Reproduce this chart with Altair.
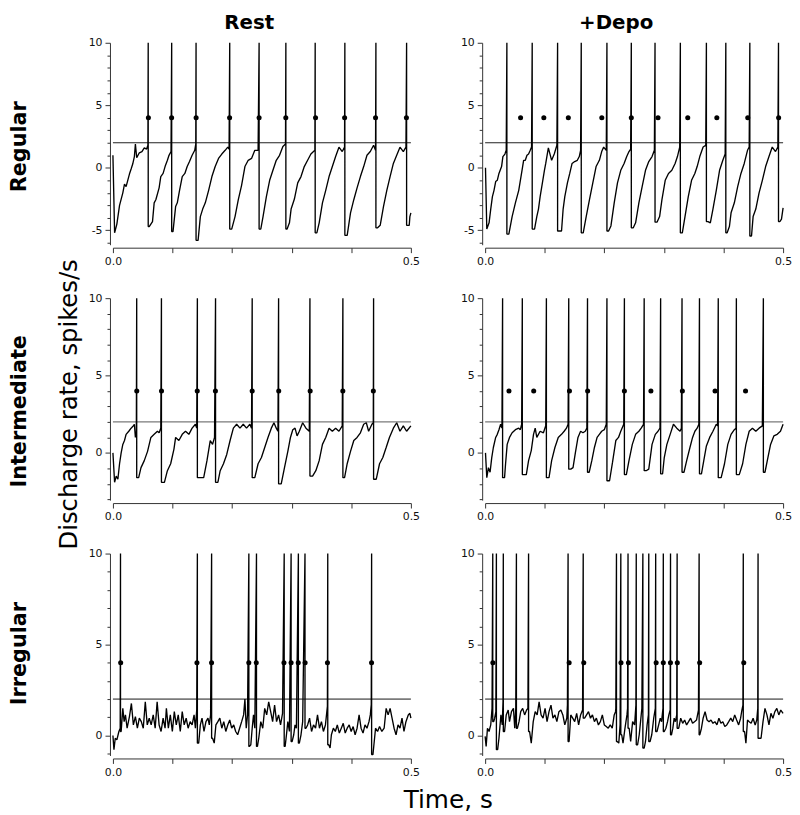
import altair as alt
import pandas as pd

# ---------------- data (time in ms, rate in spikes/s) ----------------
DOTS_REGULAR = [59.5, 98.5, 139.6, 195.8, 245.3, 290.1, 340.0, 388.8, 440.7, 492.5]
DOTS_INTERMEDIATE = [40.0, 81.5, 141.5, 172.0, 233.7, 278.2, 331.0, 385.8, 437.0]
DOTS_IRREGULAR = [13.0, 141.0, 165.5, 228.0, 240.5, 287.0, 299.0, 311.0, 322.5, 360.0, 434.0]

SPIKES_REG_REST = [59.2, 98.6, 139.5, 196.0, 245.3, 290.2, 339.4, 389.2, 441.3, 492.8]
TRACE_REG_REST = [
    (0, 1.0), (2.8, -5.2), (6.6, -4.5), (11.1, -3.0), (16.6, -2.0), (19.4, -1.3), (22.1, -1.5), (27.7, -0.5),
    (30.5, -0.1), (33.2, 0.3), (36.0, 0.9), (37.7, 1.9), (39.9, 0.8), (44.3, 1.2), (48.7, 1.3), (52.6, 1.6),
    (56.5, 1.5), (58.7, 1.8),
    (60.9, -4.7), (66.4, -4.3), (69.2, -2.8), (72.0, -2.55), (77.5, -1.6), (80.3, -0.7), (84.2, -0.45),
    (87.5, 0.1), (91.4, 0.6), (94.1, 1.0), (97.5, 1.3),
    (100.8, -5.1), (105.2, -3.1), (108.0, -2.8), (111.8, -1.8), (116.3, -0.7), (120.7, -0.45), (124.6, 0.1),
    (128.5, 0.5), (132.9, 1.0), (137.3, 1.4), (139.0, 1.9),
    (142.9, -5.8), (146.7, -3.9), (150.6, -3.3), (155.0, -2.8), (160.6, -1.8), (166.1, -0.7), (171.6, 0.1),
    (177.2, 0.75), (182.7, 1.1), (188.3, 1.4), (192.7, 1.65), (194.9, 1.5),
    (199.3, -4.9), (204.9, -3.9), (210.4, -2.55), (215.9, -1.4), (221.5, 0.1), (227.0, 0.6), (232.6, 0.75),
    (238.1, 1.4), (243.6, 1.4),
    (248.1, -4.9), (251.9, -3.9), (257.5, -2.3), (263.0, -1.0), (268.5, -0.2), (274.1, 0.6), (279.6, 1.0),
    (285.2, 1.7), (289.6, 1.9),
    (292.3, -4.9), (296.2, -4.4), (299.0, -3.3), (304.5, -2.5), (310.1, -1.2), (315.6, -0.7), (321.1, 0.1),
    (326.7, 0.6), (332.2, 1.1), (336.6, 1.3), (338.9, 1.4),
    (342.2, -5.2), (346.1, -4.4), (351.6, -2.8), (357.1, -1.8), (362.7, -0.7), (368.2, 0.1), (373.7, 0.9),
    (379.3, 1.65), (384.8, 1.3), (388.7, 1.65),
    (393.1, -5.4), (398.7, -3.6), (404.2, -2.55), (409.7, -1.6), (415.3, -0.7), (420.8, 0.1), (426.3, 1.0),
    (431.9, 1.3), (437.4, 1.8), (440.7, 1.4),
    (444.1, -4.8), (448.5, -4.6), (454.0, -3.1), (459.6, -1.8), (465.1, -0.7), (470.6, 0.35), (476.2, 1.0),
    (481.7, 1.65), (487.3, 1.3), (491.7, 1.65),
    (497.2, -4.6), (498.3, -3.9), (500, -3.6),
]

SPIKES_REG_DEPO = [36.5, 79.0, 121.6, 161.3, 204.4, 245.3, 285.1, 327.6, 371.3, 403.9, 444.2, 492.3]
TRACE_REG_DEPO = [
    (0.6, 0.0), (2.8, -4.9), (6.6, -4.4), (9.4, -3.3), (12.2, -2.3), (14.9, -1.8), (17.7, -1.1), (20.4, -1.0),
    (23.2, -0.45), (27.6, 0.1), (29.8, 0.9), (33.2, 1.1), (35.4, 1.4),
    (39.8, -5.3), (45.3, -3.9), (50.8, -2.8), (56.4, -1.8), (61.9, -0.2), (64.6, 0.6), (67.4, 0.6), (70.2, 1.0),
    (72.9, 1.1), (75.7, 1.4), (77.9, 1.66),
    (82.9, -4.9), (86.7, -3.9), (89.5, -3.3), (92.3, -2.3), (96.1, -1.2), (99.5, -0.2), (101.7, 0.35),
    (106.1, 1.6), (111.6, 0.6), (116.0, 1.1), (120.4, 1.8),
    (123.8, -5.05), (128.2, -5.05), (130.9, -3.3), (133.7, -2.3), (138.1, -1.2), (142.0, -0.45), (145.9, 0.35),
    (150.3, 0.5), (154.7, 0.6), (158.0, 0.9), (160.2, 1.4),
    (164.6, -5.2), (169.6, -3.9), (175.1, -2.55), (180.7, -1.2), (186.2, 0.1), (191.7, 0.6), (195.6, 1.3),
    (198.9, 1.66), (203.3, 1.4),
    (207.2, -5.05), (211.1, -4.65), (216.6, -2.8), (222.1, -1.2), (227.6, -0.2), (233.2, 0.35), (237.6, 0.9),
    (241.4, 1.3), (244.2, 1.5),
    (248.6, -4.8), (252.5, -4.4), (258.0, -2.8), (263.5, -1.5), (269.1, -0.2), (274.6, 0.5), (280.1, 0.9),
    (284.0, 1.4),
    (288.4, -4.35), (292.8, -3.9), (296.7, -2.55), (302.2, -1.0), (307.7, -0.45), (313.3, -0.2), (318.8, 0.35),
    (322.7, 0.9), (326.5, 1.66),
    (330.9, -5.2), (335.4, -3.9), (340.9, -2.3), (346.4, -1.0), (351.9, -0.45), (355.8, 0.1), (360.2, 0.9),
    (365.8, 1.66), (370.2, 1.8),
    (374.0, -4.3), (377.9, -4.4), (382.3, -3.3), (387.9, -1.8), (393.4, -0.2), (398.9, 0.6), (402.8, 1.1),
    (406.1, -5.2), (409.9, -4.7), (412.7, -3.6), (418.2, -2.8), (423.8, -1.5), (429.3, -0.45), (434.8, 0.35),
    (440.3, 1.4), (443.1, 1.66),
    (447.0, -5.45), (449.7, -3.9), (454.2, -3.3), (459.7, -2.0), (465.2, -1.0), (470.7, 0.1), (476.3, 0.9),
    (481.8, 1.66), (487.3, 1.3), (491.2, 1.66),
    (494.5, -4.3), (497.3, -4.1), (500, -3.2),
]

SPIKES_INT_REST = [39.9, 81.4, 141.7, 172.2, 233.7, 278.0, 330.6, 385.9, 437.4]
TRACE_INT_REST = [
    (0, 0.0), (2.8, -1.9), (5.5, -1.5), (8.3, -1.7), (11.1, -0.7), (13.8, 0.0), (16.6, 0.55), (19.4, 0.8),
    (22.1, 1.2), (26.6, 1.4), (30.5, 1.6), (33.2, 1.7), (36.0, 1.85), (37.7, 1.0), (39.3, 1.4),
    (43.2, -1.6), (47.1, -0.95), (52.6, -0.5), (58.1, 0.1), (60.9, 0.55), (63.7, 1.0), (69.2, 1.2), (74.7, 1.4),
    (77.5, 1.3), (80.3, 1.6),
    (86.4, -1.9), (91.4, -1.15), (96.9, -0.7), (102.4, 0.25), (105.2, 1.0), (110.7, 0.8), (116.3, 1.2),
    (121.8, 1.4), (127.4, 1.2), (132.9, 1.6), (138.4, 1.85), (140.6, 1.6),
    (146.7, -1.6), (152.3, -1.6), (157.8, -0.5), (163.3, 0.8), (167.2, 0.55), (170.5, 1.0),
    (176.1, -1.9), (180.0, -1.15), (185.5, -0.7), (191.0, -0.1), (196.6, 0.8), (202.1, 1.6), (207.6, 1.85),
    (213.2, 1.6), (218.7, 1.85), (224.2, 1.6), (229.8, 1.85), (232.6, 1.6),
    (238.1, -1.6), (243.6, -0.7), (249.2, -0.3), (254.7, 0.35), (260.2, 1.0), (265.8, 1.6), (270.2, 1.95),
    (274.1, 1.6), (276.9, 1.4),
    (282.4, -2.0), (287.9, -0.95), (293.5, 0.1), (297.9, 1.0), (301.8, 1.5), (305.6, 1.6), (309.0, 1.1),
    (312.8, 1.4), (318.4, 1.95), (323.9, 1.6), (329.5, 1.4),
    (335.0, -1.5), (340.5, -1.15), (346.1, -0.5), (351.6, 0.55), (357.1, 1.0), (362.7, 1.6), (368.2, 1.4),
    (373.7, 1.6), (379.3, 1.4), (384.8, 1.75),
    (388.7, -1.6), (393.1, -0.7), (398.7, 0.1), (404.2, 0.8), (409.7, 1.0), (415.3, 1.3), (420.8, 1.85),
    (425.2, 1.95), (429.1, 1.4), (434.6, 1.85), (436.9, 1.95),
    (441.9, -1.7), (447.4, -0.7), (452.9, -0.3), (458.5, 0.35), (464.0, 1.0), (470.6, 1.6), (476.2, 1.95),
    (481.7, 1.4), (487.3, 1.75), (492.8, 1.4), (500, 1.75),
]

SPIKES_INT_DEPO = [29.3, 62.4, 102.8, 140.3, 171.8, 204.4, 233.7, 266.9, 294.5, 330.4, 359.7, 391.2, 421.6, 466.9]
TRACE_INT_DEPO = [
    (0.6, 0.0), (2.8, -1.6), (5.5, -0.95), (8.3, -1.25), (11.1, -0.3), (13.8, 0.35), (17.7, 1.0), (20.4, 1.2),
    (23.2, 1.5), (26.0, 1.85), (28.2, 1.6),
    (32.6, -1.6), (34.3, -0.7), (37.0, 0.55), (40.9, 1.0), (45.3, 1.3), (50.8, 1.5), (56.4, 1.6), (59.1, 1.5),
    (61.3, 1.85),
    (65.7, -1.4), (69.1, -1.4), (72.9, -0.5), (77.4, 0.15), (81.2, 1.2), (84.0, 1.6), (86.7, 1.0), (92.3, 1.4),
    (97.8, 1.3), (101.7, 1.75),
    (107.2, -1.6), (111.6, -0.5), (117.1, 0.35), (122.7, 1.0), (128.2, 1.2), (132.6, 1.4), (136.5, 1.6),
    (139.2, 1.85),
    (143.7, -1.05), (147.5, -0.95), (151.4, 0.0), (155.8, 1.0), (160.2, 1.4), (164.1, 1.3), (168.0, 1.4),
    (170.7, 1.6),
    (174.6, -1.25), (179.0, -0.5), (183.4, 0.35), (187.9, 1.0), (191.7, 1.2), (195.6, 1.4), (200.0, 1.5),
    (203.3, 1.85),
    (208.8, -1.8), (213.8, -0.6), (219.3, 0.8), (223.8, 1.0), (227.6, 1.4), (232.6, 1.85),
    (237.0, -1.4), (241.4, -0.5), (247.0, 0.55), (252.5, 1.2), (258.0, 1.4), (261.9, 1.6), (265.8, 1.85),
    (270.2, -1.15), (274.6, -1.05), (280.1, 0.55), (285.6, 1.2), (290.1, 1.4), (293.4, 1.6),
    (297.8, -1.35), (300.6, -0.3), (305.0, 0.55), (310.5, 1.2), (316.0, 1.85), (321.6, 1.6), (327.1, 1.4),
    (329.3, 1.6),
    (333.7, -1.25), (338.2, -0.5), (343.7, 0.35), (348.1, 1.0), (352.0, 1.4), (355.8, 1.6), (358.6, 1.85),
    (363.0, -1.35), (366.9, -0.5), (371.3, 0.45), (376.8, 1.0), (382.3, 1.4), (387.9, 1.85), (390.1, 1.75),
    (396.1, -1.6), (401.7, -0.7), (407.2, 0.55), (412.7, 1.2), (418.2, 1.5), (421.0, 1.6),
    (426.5, -1.4), (432.1, -0.7), (437.6, 0.55), (443.1, 1.4), (448.6, 1.6), (454.2, 1.4), (459.7, 1.6),
    (465.2, 1.75),
    (469.6, -1.25), (473.5, -0.5), (479.0, 0.55), (484.5, 1.1), (490.1, 1.2), (495.6, 1.4), (500, 1.85),
]

SPIKES_IRR_REST = [12.7, 141.7, 165.6, 228.1, 240.9, 287.4, 299.0, 311.2, 322.3, 360.5, 434.1]
TRACE_IRR_REST = [
    (0, 0.0), (1.7, -0.78), (3.9, -0.15), (6.6, -0.24), (10.0, 0.22), (12.2, 0.4),
    (13.8, 0.22), (16.6, 1.49), (18.8, 0.76), (21.0, 1.13), (23.8, 0.4), (27.7, 1.04), (31.0, 1.76), (34.3, 0.58),
    (37.7, 1.04), (41.0, 0.4), (44.3, 0.95), (47.6, 0.76), (50.9, 0.4), (54.3, 1.85), (57.6, 0.58), (60.9, 0.95),
    (64.2, 0.58), (67.6, 1.13), (70.9, 0.4), (74.2, 1.85), (77.5, 0.58), (80.8, 0.22), (84.2, 0.95), (87.5, 0.4),
    (89.7, 1.49), (93.0, 0.4), (96.3, 1.13), (99.7, 0.22), (103.0, 1.31), (106.3, 0.58), (109.6, 1.13),
    (113.0, 0.22), (116.3, 1.31), (119.6, 0.58), (122.9, 0.95), (126.2, 0.4), (129.6, 0.76), (132.9, 0.58),
    (136.2, 1.13), (138.4, 0.4), (140.6, 1.4),
    (143.9, -0.42), (146.7, 0.58), (149.5, 0.95), (152.8, 0.22), (156.1, 0.76), (159.5, 0.95), (161.7, 0.58),
    (163.9, 1.13),
    (167.2, -0.15), (170.0, -0.42), (172.8, 0.58), (176.1, 0.76), (179.4, 0.95), (182.7, 0.4), (186.0, 0.76),
    (189.4, 0.22), (192.7, 0.58), (196.0, 0.85), (199.3, 0.4), (202.7, 0.58), (206.0, 0.22), (209.3, 0.04),
    (212.6, 0.4), (216.0, 0.76), (219.3, 1.13), (221.5, 2.0), (223.7, 0.4), (225.9, 1.13),
    (229.2, -0.6), (231.4, -0.51), (233.7, 0.4), (235.9, 1.13), (238.1, 0.4),
    (242.5, -0.6), (244.7, -0.15), (248.1, 0.76), (251.4, 0.4), (254.7, 1.49), (258.0, 1.13), (261.4, 1.85),
    (264.7, 1.31), (268.0, 0.76), (271.3, 1.67), (274.6, 0.76), (278.0, 1.13), (281.3, 0.58), (284.6, 1.22),
    (289.0, -0.6), (291.2, 0.04), (293.5, 0.76), (296.2, 0.22),
    (300.7, -0.33), (303.4, 0.04), (305.6, 0.58), (307.9, 0.4),
    (312.8, -0.42), (315.6, 0.04), (318.4, 0.76),
    (323.9, 0.4), (326.7, 0.58), (330.0, 0.95), (333.3, 0.22), (336.6, 0.58), (340.0, 0.4), (343.3, 1.13),
    (346.6, 0.4), (349.9, 0.76), (353.2, 0.22), (356.6, 0.58), (359.9, 1.6),
    (362.1, -0.51), (364.4, -0.69), (366.6, 0.04), (369.9, 0.4), (373.2, 0.22), (376.5, 0.58), (379.9, 0.13),
    (383.2, 0.4), (386.5, 0.67), (389.8, 0.13), (393.1, 0.4), (396.5, 0.58), (399.8, 0.22), (403.1, 0.49),
    (406.4, 0.04), (409.7, 0.4), (413.1, 1.13), (416.4, 0.4), (419.7, 0.13), (423.0, 0.58), (426.3, 0.4),
    (429.7, 0.76), (431.9, 1.13), (433.5, 1.7),
    (436.3, -1.05), (438.5, -0.33), (440.7, 0.4), (444.1, 0.22), (447.4, 0.49), (451.3, 0.22), (455.1, 0.4),
    (458.5, 1.49), (461.8, 1.13), (465.1, 1.49), (468.4, 0.95), (471.8, 0.4), (475.1, 0.04), (478.4, 0.58),
    (481.7, 0.4), (485.1, 0.95), (488.4, 0.22), (491.7, 0.76), (495.6, 1.13), (498.3, 1.22), (500, 0.95),
]

SPIKES_IRR_DEPO = [12.8, 18.9, 30.5, 52.5, 72.9, 139.2, 164.6, 220.4, 227.7, 239.8, 253.6, 264.7, 274.6,
                   286.2, 299.0, 311.1, 322.2, 359.1, 433.2, 458.0]
TRACE_IRR_DEPO = [
    (0, -0.05), (1.7, -0.6), (3.9, 0.4), (6.6, 0.22), (9.4, 0.58), (11.6, 1.5),
    (14.4, 0.76), (16.0, 0.95), (18.0, 1.3),
    (21.0, -0.78), (23.2, -0.15), (26.5, 1.13), (28.7, 0.58), (30.0, 1.85),
    (32.6, 0.22), (35.4, 1.13), (38.7, 1.4), (40.9, 0.76), (44.2, 1.31), (47.5, 1.49), (49.7, 0.4), (51.4, 1.49),
    (54.1, 0.4), (56.9, 0.76), (59.7, 1.31), (63.0, 1.49), (66.3, 1.13), (69.6, 1.4), (71.8, 1.49),
    (74.6, 0.22), (77.4, -0.42), (80.7, 0.76), (84.0, 1.31), (87.3, 1.13), (90.6, 1.85), (93.9, 1.13),
    (97.2, 0.95), (100.6, 1.49), (103.9, 0.76), (107.2, 1.31), (110.5, 1.67), (113.8, 0.95), (117.1, 1.13),
    (120.4, 0.76), (123.8, 1.31), (127.1, 1.4), (130.4, 1.13), (133.7, 0.58), (137.0, 0.95), (138.1, 1.67),
    (140.9, -0.33), (143.7, 1.13), (147.0, 0.95), (150.3, 0.76), (153.6, 1.22), (156.9, 0.58), (160.2, 1.13),
    (163.5, 1.4),
    (166.9, 0.95), (170.2, 1.13), (173.5, 1.31), (176.8, 0.95), (180.1, 1.13), (183.4, 0.76), (186.7, 0.95),
    (190.1, 0.58), (193.4, 0.76), (196.7, 1.13), (200.0, 0.58), (203.3, 0.49), (206.6, 0.4), (209.9, 0.58),
    (213.3, 0.4), (216.6, 1.13), (218.8, 1.31), (219.3, 1.49),
    (221.6, -0.33), (224.3, -0.42), (226.5, 0.6),
    (229.2, 0.04), (231.4, -0.42), (234.7, 0.4), (238.0, 1.13), (239.0, 1.49),
    (241.7, 0.4), (244.2, -0.33), (247.5, 0.76), (250.8, 0.58), (253.0, 1.67),
    (255.8, -0.51), (258.6, 0.04), (260.8, 0.76), (263.0, 1.49),
    (266.9, -0.69), (269.1, -0.33), (271.8, 0.58), (274.0, 1.13),
    (276.8, -0.33), (279.6, 0.04), (282.9, 0.95), (285.6, 1.49),
    (288.4, 0.22), (291.2, 0.58), (293.9, 0.95), (296.1, 0.76), (298.4, 1.49),
    (300.6, 0.22), (303.3, 0.4), (306.1, 0.76), (308.3, 1.13), (310.5, 1.4),
    (312.7, 0.04), (315.0, 0.4), (317.2, 0.95), (319.3, 0.76), (321.5, 1.13),
    (324.9, 0.4), (328.2, 0.95), (331.5, 0.67), (334.8, 0.85), (338.1, 0.58), (341.4, 0.76), (344.8, 0.95),
    (348.1, 0.67), (351.4, 0.76), (354.7, 0.85), (358.0, 1.4),
    (360.2, 0.04), (363.0, 0.4), (365.8, 0.95), (369.1, 1.31), (372.4, 0.85), (375.7, 0.76), (379.0, 0.85),
    (382.3, 0.67), (385.6, 0.76), (389.0, 0.58), (392.3, 0.95), (395.6, 0.67), (398.9, 0.76), (402.2, 0.49),
    (405.5, 0.58), (408.8, 0.76), (412.2, 0.95), (415.5, 0.76), (418.8, 1.13), (422.1, 0.85), (425.4, 0.58),
    (428.7, 0.95), (430.9, 1.4), (432.6, 1.67),
    (435.4, 0.22), (437.6, -0.42), (440.3, 0.85), (443.1, 0.76), (446.4, 0.67), (449.7, 0.95), (453.1, 0.58),
    (455.8, 0.85), (457.5, 1.49),
    (459.7, -0.15), (463.0, -0.15), (466.3, 0.76), (469.6, 1.49), (472.9, 1.13), (476.3, 0.58), (479.6, 1.22),
    (482.9, 0.95), (486.2, 1.31), (489.5, 1.49), (492.8, 1.13), (496.1, 1.4), (500, 1.22),
]

ROW_NAMES = ["Regular", "Intermediate", "Irregular"]
COL_NAMES = ["Rest", "+Depo"]
Y_LOW = [-6.15, -3.05, -1.1]
Y_TICKS = [list(range(-6, 11)), list(range(-3, 11)), list(range(-1, 11))]
X_TICKS = [0, 100, 200, 300, 400, 500]
THRESHOLD = 2.0
DOT_LEVEL = 4.0
SPIKE_TOP = 10.0

PANELS = [
    [(TRACE_REG_REST, SPIKES_REG_REST), (TRACE_REG_DEPO, SPIKES_REG_DEPO)],
    [(TRACE_INT_REST, SPIKES_INT_REST), (TRACE_INT_DEPO, SPIKES_INT_DEPO)],
    [(TRACE_IRR_REST, SPIKES_IRR_REST), (TRACE_IRR_DEPO, SPIKES_IRR_DEPO)],
]
DOTS = [DOTS_REGULAR, DOTS_INTERMEDIATE, DOTS_IRREGULAR]
THRESH_STYLE = [("#222222", 1.1), ("#7a7a7a", 1.2), ("#7a7a7a", 1.7)]

# ---------------- chart ----------------
W, H = 301, 204
AXC = "#333333"
FONT = "DejaVu Sans"


def x_enc():
    return alt.X(
        "t:Q",
        scale=alt.Scale(domain=[0, 500], nice=False, zero=False),
        axis=alt.Axis(
            values=X_TICKS,
            labelExpr="datum.value == 0 ? '0.0' : (datum.value == 500 ? '0.5' : '')",
            title=None, grid=False, offset=3, tickSize=5, labelFlush=False, labelOverlap=False,
            domainColor=AXC, tickColor=AXC, labelFont=FONT, labelFontSize=11,
            labelColor="#111111", labelPadding=3,
        ),
    )


def y_enc(r):
    return alt.Y(
        "v:Q",
        scale=alt.Scale(domain=[Y_LOW[r], 10], nice=False, zero=False),
        axis=alt.Axis(
            values=Y_TICKS[r],
            labelExpr="datum.value % 5 == 0 ? '' + datum.value : ''",
            tickSize={"condition": {"test": "datum.value % 5 == 0", "value": 5}, "value": 3},
            title=None, grid=False, offset=3, labelOverlap=False,
            domainColor=AXC, tickColor=AXC, labelFont=FONT, labelFontSize=11,
            labelColor="#111111", labelPadding=3,
        ),
    )


def text_layer(s, x, y, size, weight="normal", angle=0, baseline="middle"):
    return alt.Chart(pd.DataFrame({"s": [s]})).mark_text(
        x=x, y=y, angle=angle, align="center", baseline=baseline,
        font=FONT, fontSize=size, fontWeight=weight, color="black",
    ).encode(text="s:N")


def build_trace(trace, spikes):
    # each spike: straight up to the top at the spike time, then straight down
    # to the trough value read just after it
    rows = [(t, 1, v) for t, v in trace]
    pts = sorted(trace)
    for s in spikes:
        nxt = next((v for t, v in pts if t > s), pts[-1][1])
        rows.append((s, 0, SPIKE_TOP))
        rows.append((s, 0.5, nxt))
    rows.sort()
    df = pd.DataFrame([(t, v) for t, _, v in rows], columns=["t", "v"])
    df["i"] = range(len(df))
    return df


charts = []
for r in range(3):
    for c in range(2):
        trace, spikes = PANELS[r][c]
        df = build_trace(trace, spikes)
        thr = pd.DataFrame({"t": [0, 500], "v": [THRESHOLD, THRESHOLD]})
        dots = pd.DataFrame({"t": DOTS[r], "v": [DOT_LEVEL] * len(DOTS[r])})
        col, sw = THRESH_STYLE[r]
        layers = [
            alt.Chart(thr).mark_line(color=col, strokeWidth=sw).encode(x=x_enc(), y=y_enc(r)),
            alt.Chart(df).mark_line(color="black", strokeWidth=1.35, strokeJoin="bevel").encode(
                x=x_enc(), y=y_enc(r), order=alt.Order("i:Q")),
            alt.Chart(dots).mark_circle(color="black", size=26, opacity=1).encode(x=x_enc(), y=y_enc(r)),
        ]
        if r == 0:
            layers.append(text_layer(COL_NAMES[c], 137.7 if c == 0 else 132.4, -30.3, 20,
                                     "bold", baseline="top"))
        if c == 0:
            ry = [105, 114.3, 101][r]
            layers.append(text_layer(ROW_NAMES[r], -94.3, ry, 21, "bold", angle=270))
        if r == 1 and c == 0:
            layers.append(text_layer("Discharge rate, spikes/s", -42.8, 107.3, 24.5, angle=270))
        if r == 2 and c == 0:
            layers.append(text_layer("Time, s", 338.7, 257, 25, baseline="alphabetic"))
        charts.append(alt.layer(*layers).properties(width=W, height=H))

chart = alt.concat(
    *charts, columns=2, spacing={"row": 54, "column": 75}, bounds="flush"
).properties(padding=0).configure_view(stroke=None)

chart.save("out.html", embed_options={"renderer": "svg", "actions": False})
